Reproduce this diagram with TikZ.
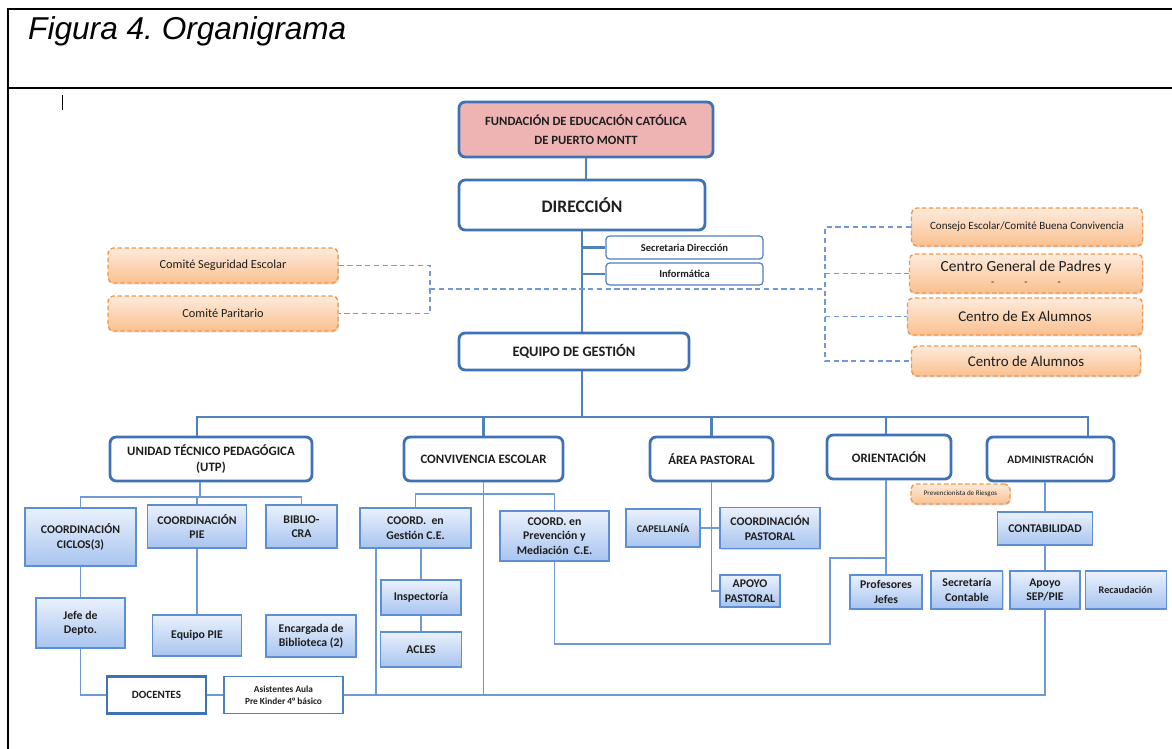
\documentclass[tikz,border=0pt]{standalone}
\usepackage{fontspec}
\setmainfont{Carlito}
\newfontfamily\titlefont{Liberation Sans}
\usetikzlibrary{positioning,calc,shadows}
\frenchspacing

\definecolor{frameblue}{HTML}{3F72B5}
\definecolor{lineblue}{HTML}{4F81BD}
\definecolor{thinblue}{HTML}{6F9AD6}
\definecolor{fundpink}{HTML}{EEB4B3}
\definecolor{dashorange}{HTML}{F79646}
\definecolor{orangetop}{HTML}{FDEBDC}
\definecolor{orangebot}{HTML}{FAC08F}
\definecolor{gradtop}{HTML}{EAF1FC}
\definecolor{gradbot}{HTML}{A8C4EF}
\definecolor{gradborder}{HTML}{5E8ED3}
\definecolor{textgray}{HTML}{1E1E1E}

\tikzset{
  headbox/.style={draw=frameblue, line width=1.6pt, rounded corners=3.5pt, fill=white, text=textgray, align=center, inner sep=0pt, font=\bfseries\fontsize{7.3}{8.8}\selectfont},
  fundbox/.style={headbox, fill=fundpink, font=\bfseries\fontsize{7.2}{11}\selectfont},
  infobox/.style={draw=lineblue, line width=0.7pt, rounded corners=2pt, fill=white, text=textgray, inner sep=0pt, font=\bfseries\fontsize{6}{7}\selectfont},
  dashbox/.style={draw=dashorange, dash pattern=on 2.5pt off 1.5pt, line width=0.8pt, rounded corners=3pt, top color=orangetop, bottom color=orangebot, drop shadow={shadow xshift=0.5pt, shadow yshift=-0.8pt, opacity=0.3}, text=textgray, inner sep=0pt, align=center, font=\fontsize{7}{8}\selectfont},
  unitbox/.style={draw=gradborder, line width=0.6pt, top color=gradtop, bottom color=gradbot, drop shadow={shadow xshift=0.5pt, shadow yshift=-0.8pt, opacity=0.3}, text=textgray, inner sep=0pt, align=center, font=\bfseries\fontsize{6.7}{8.2}\selectfont},
  plainbox/.style={draw=lineblue, line width=0.7pt, fill=white, text=textgray, inner sep=0pt, align=center, font=\bfseries\fontsize{5.3}{7}\selectfont},
  mainline/.style={draw=lineblue, line width=1.3pt},
  subline/.style={draw=thinblue, line width=0.8pt},
  dashline/.style={draw=thinblue, densely dashed, line width=0.6pt},
}

\begin{document}
\begin{tikzpicture}[x=0.02cm, y=-0.02cm]
  \useasboundingbox (0,0) rectangle (1172,749);

  % frame and title
  \draw[line width=1.1pt] (8,749) -- (8,9) -- (1172,9);
  \draw[line width=1.1pt] (8,88) -- (1172,88);
  \node[anchor=base west, font=\titlefont\itshape\fontsize{18}{20}\selectfont] (title) at (22,40) {Figura 4. Organigrama};
  \draw[line width=0.5pt] (62,95) -- (62,110);

  % top of the chart
  \node[fundbox, minimum width=5.08cm, minimum height=1.1cm] (fund) at (586,129.5) {FUNDACIÓN DE EDUCACIÓN CATÓLICA\\DE PUERTO MONTT};
  \node[headbox, minimum width=4.92cm, minimum height=1cm, font=\bfseries\fontsize{10}{12}\selectfont] (dir) at (582,205) {DIRECCIÓN};
  \node[infobox, minimum width=3.14cm, minimum height=0.46cm] (secdir) at (684.5,247.5) {Secretaria Dirección};
  \node[infobox, minimum width=3.14cm, minimum height=0.44cm] (info) at (684.5,274) {Informática};
  \node[headbox, minimum width=4.6cm, minimum height=0.74cm, font=\bfseries\fontsize{8.2}{10}\selectfont] (gest) at (574,351.5) {EQUIPO DE GESTIÓN};

  % committees
  \node[dashbox, minimum width=4.6cm, minimum height=0.7cm] (comseg) at (223,265.5) {Comité Seguridad Escolar};
  \node[dashbox, minimum width=4.6cm, minimum height=0.7cm] (compar) at (223,313.5) {Comité Paritario};
  \node[dashbox, minimum width=4.62cm, minimum height=0.76cm, font=\fontsize{6.3}{7}\selectfont] (consejo) at (1027,227) {Consejo Escolar/Comité Buena Convivencia};
  \node[dashbox, minimum width=4.66cm, minimum height=0.78cm, font=\fontsize{8.8}{9}\selectfont] (cgpadres) at (1026,273.5) {Centro General de Padres y\\[-1pt]{\fontsize{6}{6}\selectfont -\hspace{6mm}-\hspace{6mm}-}};
  \node[dashbox, minimum width=4.7cm, minimum height=0.74cm, font=\fontsize{8.5}{10}\selectfont] (cexalum) at (1025,316.5) {Centro de Ex Alumnos};
  \node[dashbox, minimum width=4.58cm, minimum height=0.6cm, font=\fontsize{8.5}{10}\selectfont] (calum) at (1026,361) {Centro de Alumnos};
  \coordinate (lbr) at (430,289);
  \coordinate (rbr) at (825,289);

  % second level
  \coordinate (busL) at (197,417);
  \coordinate (busR) at (1088,417);
  \node[headbox, minimum width=4.04cm, minimum height=0.88cm] (utp) at (211,459) {UNIDAD TÉCNICO PEDAGÓGICA\\(UTP)};
  \node[headbox, minimum width=3.18cm, minimum height=0.88cm] (conv) at (483.5,459) {CONVIVENCIA ESCOLAR};
  \node[headbox, minimum width=2.46cm, minimum height=0.88cm] (pastoral) at (711.5,459) {ÁREA PASTORAL};
  \node[headbox, minimum width=2.48cm, minimum height=0.88cm] (orient) at (889,457) {ORIENTACIÓN};
  \node[headbox, minimum width=2.54cm, minimum height=0.88cm, font=\bfseries\fontsize{6.5}{8}\selectfont] (admin) at (1050.5,459) {ADMINISTRACIÓN};

  % UTP
  \coordinate (utpbus) at (200,497);
  \node[unitbox, minimum width=2.22cm, minimum height=1.16cm] (ciclos) at (80.5,537) {COORDINACIÓN\\CICLOS(3)};
  \node[unitbox, minimum width=1.98cm, minimum height=0.86cm] (cpie) at (197,526.5) {COORDINACIÓN\\PIE};
  \node[unitbox, minimum width=1.42cm, minimum height=0.86cm] (biblio) at (301.5,526.5) {BIBLIO-\\CRA};
  \node[unitbox, minimum width=1.78cm, minimum height=1cm] (jefe) at (80.5,623) {Jefe de\\Depto.};
  \node[unitbox, minimum width=1.78cm, minimum height=0.82cm] (epie) at (197,635.5) {Equipo PIE};
  \node[unitbox, minimum width=1.8cm, minimum height=0.84cm] (encarg) at (311,636) {Encargada de\\Biblioteca (2)};
  \node[plainbox, draw=frameblue, line width=1.3pt, minimum width=1.98cm, minimum height=0.74cm, font=\bfseries\fontsize{6.3}{8}\selectfont] (docentes) at (156.5,695) {DOCENTES};
  \node[plainbox, minimum width=2.38cm, minimum height=0.74cm] (asist) at (283.5,695) {Asistentes Aula\\Pre Kinder 4° básico};

  % Convivencia
  \coordinate (convbus) at (485,494);
  \node[unitbox, minimum width=2.22cm, minimum height=0.8cm] (cgest) at (415.5,528) {COORD.~ en\\Gestión C.E.};
  \node[unitbox, minimum width=2.18cm, minimum height=1cm] (cprev) at (554.5,536) {COORD. en\\Prevención y\\Mediación~ C.E.};
  \node[unitbox, minimum width=1.6cm, minimum height=0.7cm] (insp) at (421,597.5) {Inspectoría};
  \node[unitbox, minimum width=1.62cm, minimum height=0.7cm] (acles) at (421,649.5) {ACLES};
  \coordinate (cgestleg) at ([xshift=-0.79cm]cgest.south);

  % Pastoral
  \node[unitbox, minimum width=1.48cm, minimum height=0.76cm, font=\bfseries\fontsize{5.8}{7}\selectfont] (capel) at (663,528) {CAPELLANÍA};
  \node[unitbox, minimum width=2cm, minimum height=0.82cm] (cpast) at (770,528) {COORDINACIÓN\\PASTORAL};
  \node[unitbox, minimum width=1.2cm, minimum height=0.64cm] (apast) at (750,591) {APOYO\\PASTORAL};

  % Orientacion
  \coordinate (orjoin) at (886,558);
  \node[dashbox, minimum width=1.98cm, minimum height=0.4cm, font=\fontsize{4}{5}\selectfont] (prevenc) at (960.5,494) {Prevencionista de Riesgos};
  \node[unitbox, minimum width=1.44cm, minimum height=0.68cm] (profj) at (886,592) {Profesores\\Jefes};

  % Administracion
  \node[unitbox, minimum width=1.9cm, minimum height=0.66cm] (contab) at (1045,528.5) {CONTABILIDAD};
  \node[unitbox, minimum width=1.4cm, minimum height=0.76cm] (apoyo) at (1045,590) {Apoyo\\SEP/PIE};
  \node[unitbox, minimum width=1.44cm, minimum height=0.76cm, anchor=east] (seccont) at ([xshift=-0.12cm]apoyo.west) {Secretaría\\Contable};
  \node[unitbox, minimum width=1.62cm, minimum height=0.76cm, anchor=west, font=\bfseries\fontsize{5.8}{7}\selectfont] (recaud) at ([xshift=0.08cm]apoyo.east) {Recaudación};

  % connectors
  \draw[mainline] (fund.south) -- (fund.south |- dir.north);
  \draw[mainline] (dir.south) -- (dir.south |- gest.north);
  \draw[mainline] (dir.south |- secdir.west) -- (secdir.west);
  \draw[mainline] (dir.south |- info.west) -- (info.west);
  \draw[mainline] (gest.south -| dir.south) -- (busL -| dir.south);
  \draw[mainline] (busL |- utp.north) -- (busL) -- (busR) -- (busR |- admin.north);
  \draw[mainline] (busL -| conv.north) -- (conv.north);
  \draw[mainline] (busL -| pastoral.north) -- (pastoral.north);
  \draw[mainline] (busL -| profj.north) -- (orient.north -| profj.north);

  \draw[dashline] (comseg.east) -| (lbr) |- (compar.east);
  \draw[dashline] (lbr) -- (rbr);
  \draw[dashline] (consejo.west) -| (rbr) |- (calum.west);
  \draw[dashline] (cgpadres.west -| rbr) -- (cgpadres.west);
  \draw[dashline] (cexalum.west -| rbr) -- (cexalum.west);

  \draw[subline] (utp.south -| utpbus) -- (utpbus);
  \draw[subline] (ciclos.north) |- (utpbus) -| (biblio.north);
  \draw[subline] (utpbus -| cpie.north) -- (cpie.north);
  \draw[subline] (ciclos.south) -- (jefe.north);
  \draw[subline] (cpie.south) -- (epie.north);
  \draw[subline] (jefe.south) |- (docentes.west);
  \draw[subline] (docentes.east) -- (asist.west);
  \draw[subline] (asist.east) -| (apoyo.south);

  \draw[subline] (conv.south) -- (conv.south |- asist.east);
  \draw[subline] (cgest.north) |- (convbus) -| (cprev.north);
  \draw[subline] (cgestleg) -- (cgestleg |- asist.east);
  \draw[subline] (insp.north |- cgest.south) -- (insp.north);
  \draw[subline] (insp.south) -- (acles.north);
  \draw[subline] (cprev.south) |- (830,644) |- (orjoin);

  \draw[subline] (pastoral.south) |- (apast.west);
  \draw[subline] (capel.east) -- (cpast.west);
  \draw[subline] (orient.south -| profj.north) -- (profj.north);
  \draw[subline] (admin.south -| contab.north) -- (contab.north);
  \draw[subline] (contab.south) -- (apoyo.north);
\end{tikzpicture}
\end{document}
